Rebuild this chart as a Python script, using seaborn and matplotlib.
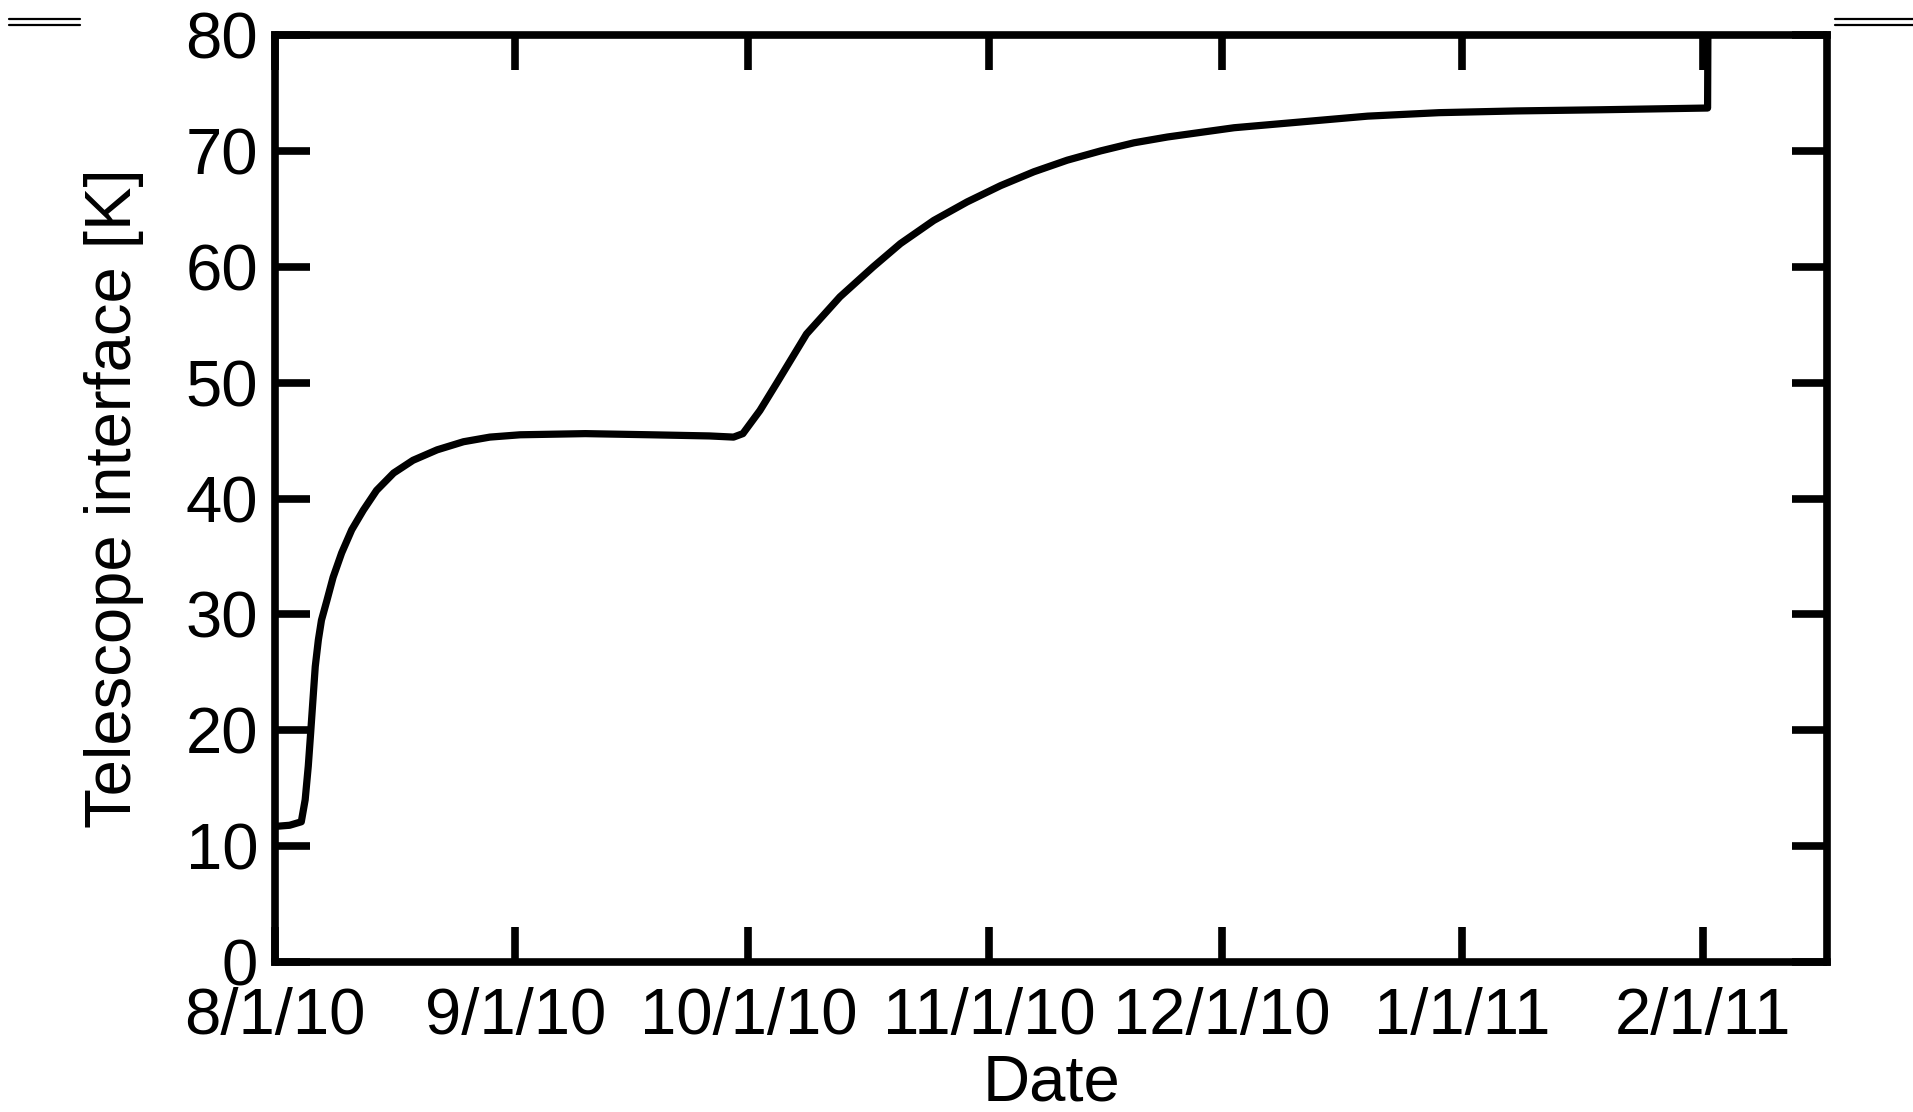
import matplotlib
matplotlib.use("Agg")
import matplotlib.pyplot as plt
import matplotlib.dates as mdates
from matplotlib.lines import Line2D
from matplotlib.ticker import FuncFormatter
import pandas as pd
import seaborn as sns

# Telescope interface temperature history (days after 2010-08-01, kelvin)
start_date = "2010-08-01"
days = [0.0, 1.9, 3.4, 3.9, 4.3, 4.6, 4.9, 5.2, 5.6, 6.0, 6.7, 7.5, 8.6,
        9.9, 11.4, 13.1, 15.3, 17.8, 20.9, 24.3, 27.7, 31.6, 40.0, 48.4,
        56.0, 59.1, 60.3, 62.5, 64.7, 68.5, 72.8, 77.1, 80.6, 84.9, 89.2,
        93.5, 97.8, 102.1, 106.4, 110.7, 115.0, 119.3, 123.6, 132.2, 140.8,
        150.0, 160.0, 170.9, 184.6, 184.7]
temperature_k = [11.7, 11.8, 12.1, 14.0, 16.9, 19.7, 22.6, 25.5, 27.8, 29.5,
                 31.2, 33.2, 35.3, 37.3, 39.0, 40.7, 42.2, 43.3, 44.2, 44.9,
                 45.3, 45.5, 45.6, 45.5, 45.4, 45.3, 45.6, 47.6, 50.0, 54.2,
                 57.4, 60.0, 62.0, 64.0, 65.6, 67.0, 68.2, 69.2, 70.0, 70.7,
                 71.2, 71.6, 72.0, 72.5, 73.0, 73.3, 73.45, 73.55, 73.7, 90.0]

y_ticks = [0, 10, 20, 30, 40, 50, 60, 70, 80]
x_range_days = (0, 200)

df = pd.DataFrame({
    "Date": pd.Timestamp(start_date) + pd.to_timedelta(days, unit="D"),
    "Temperature": temperature_k,
})

sns.set_theme(style="ticks")
plt.rcParams["font.family"] = ["Liberation Sans", "DejaVu Sans"]

fig = plt.figure(figsize=(19.13, 11.12), dpi=100)
ax = fig.add_axes([0.1437, 0.1349, 0.8114, 0.8336])

sns.lineplot(data=df, x="Date", y="Temperature", sort=False, ax=ax,
             color="black", linewidth=5.2, estimator=None,
             solid_joinstyle="round", solid_capstyle="butt")

t0 = pd.Timestamp(start_date)
ax.set_xlim(t0 + pd.Timedelta(days=x_range_days[0]),
            t0 + pd.Timedelta(days=x_range_days[1]))
ax.set_ylim(y_ticks[0], y_ticks[-1])
ax.set_yticks(y_ticks)

ax.xaxis.set_major_locator(mdates.MonthLocator())
ax.xaxis.set_major_formatter(FuncFormatter(
    lambda v, pos: (lambda d: f"{d.month}/{d.day}/{d.year % 100}")(mdates.num2date(v))))

fs = 47
ax.tick_params(axis="both", which="major", direction="in", length=25,
               width=5.5, labelsize=fs, top=True, right=True, color="black",
               labelcolor="black")
ax.tick_params(axis="x", pad=18)
ax.tick_params(axis="y", pad=12)
for s in ax.spines.values():
    s.set_linewidth(5.5)
    s.set_color("black")

ax.set_xlabel("Date", fontsize=fs, color="black", labelpad=5)
ax.set_ylabel("Telescope interface [K]", fontsize=fs, color="black", labelpad=30)

# Double rules in the page margins
for x0, x1 in [(9 / 1913, 80 / 1913), (1835 / 1913, 1.0)]:
    for yy in (18.5, 25):
        fig.add_artist(Line2D([x0, x1], [1 - yy / 1112, 1 - yy / 1112],
                              transform=fig.transFigure, color="black",
                              linewidth=1.6))

fig.savefig("out.png", dpi=100, facecolor="white")
